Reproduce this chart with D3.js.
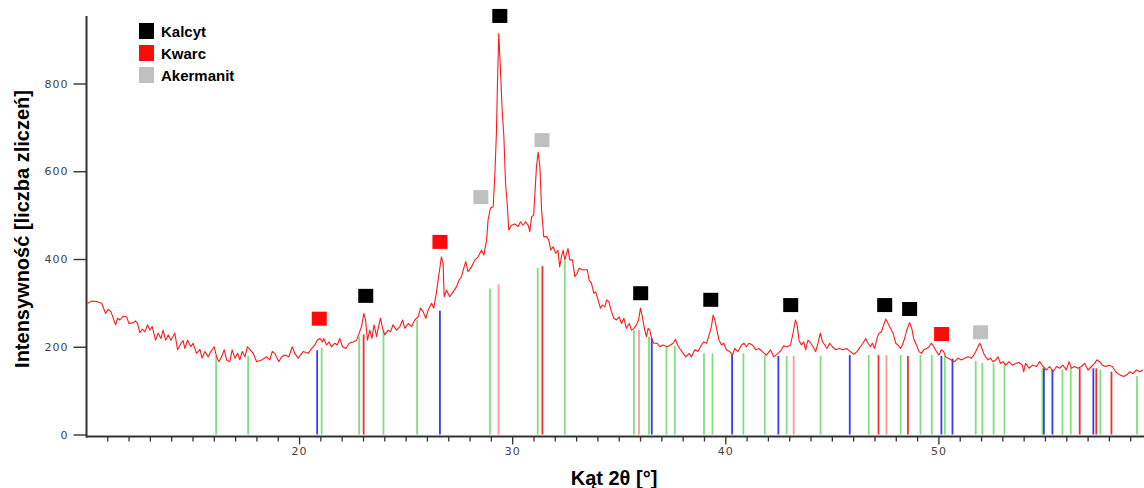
<!DOCTYPE html>
<html>
<head>
<meta charset="utf-8">
<script src="https://cdn.jsdelivr.net/npm/d3@7"></script>
<style>
  html, body { margin: 0; padding: 0; background: #fff; }
  svg { display: block; }
</style>
</head>
<body>
<svg id="chart" width="1144" height="488"></svg>
<script>
// Measured diffraction pattern: [2θ (°), counts]
const pattern = [
  [10.08,299],[10.27,304],[10.50,303],[10.74,299],[10.92,276],[11.04,285],[11.17,280],[11.23,272],
  [11.39,250],[11.49,265],[11.59,261],[11.75,270],[11.91,268],[12.02,253],[12.22,255],[12.33,259],
  [12.42,253],[12.53,232],[12.64,240],[12.77,234],[12.89,250],[13.00,238],[13.11,246],[13.27,215],
  [13.39,231],[13.52,219],[13.62,238],[13.74,215],[13.86,227],[13.99,215],[14.17,231],[14.30,193],
  [14.46,208],[14.56,214],[14.64,196],[14.77,215],[14.92,200],[15.03,208],[15.19,185],[15.35,194],
  [15.45,174],[15.58,189],[15.74,177],[15.86,189],[16.02,200],[16.13,177],[16.24,166],[16.36,177],
  [16.49,193],[16.60,170],[16.75,166],[16.86,193],[16.99,174],[17.12,185],[17.22,170],[17.33,189],
  [17.46,177],[17.58,200],[17.71,193],[17.85,185],[18.01,166],[18.24,170],[18.48,177],[18.63,170],
  [18.74,189],[18.86,185],[19.05,166],[19.18,177],[19.33,181],[19.52,177],[19.68,200],[19.80,185],
  [19.96,174],[20.19,189],[20.43,185],[20.59,196],[20.74,204],[20.85,215],[20.98,219],[21.10,211],
  [21.16,219],[21.29,204],[21.41,211],[21.52,200],[21.68,208],[21.79,204],[21.91,219],[22.04,200],
  [22.20,196],[22.35,208],[22.54,211],[22.70,215],[22.82,231],[22.93,246],[23.04,276],[23.12,261],
  [23.21,215],[23.32,238],[23.42,219],[23.52,250],[23.64,223],[23.73,246],[23.82,265],[23.92,242],
  [24.02,227],[24.18,238],[24.29,234],[24.41,250],[24.57,238],[24.73,246],[24.86,261],[24.96,242],
  [25.12,253],[25.28,246],[25.43,261],[25.59,268],[25.70,288],[25.82,280],[25.95,265],[26.06,284],
  [26.22,299],[26.32,288],[26.45,325],[26.57,367],[26.68,405],[26.76,390],[26.81,314],[26.92,329],
  [27.07,314],[27.23,325],[27.39,337],[27.51,352],[27.62,360],[27.73,379],[27.82,394],[27.93,371],
  [28.09,382],[28.25,398],[28.40,405],[28.56,420],[28.67,409],[28.80,443],[28.87,489],[28.98,516],
  [29.11,519],[29.19,595],[29.26,686],[29.31,800],[29.37,914],[29.45,831],[29.53,740],[29.61,679],
  [29.69,572],[29.76,531],[29.84,466],[29.97,477],[30.12,480],[30.28,474],[30.39,485],[30.51,477],
  [30.63,485],[30.75,477],[30.83,462],[30.91,496],[31.01,500],[31.14,610],[31.22,644],[31.30,610],
  [31.38,512],[31.48,451],[31.61,451],[31.72,443],[31.81,420],[31.92,428],[32.05,413],[32.15,420],
  [32.23,382],[32.31,405],[32.39,420],[32.47,398],[32.55,413],[32.62,424],[32.70,398],[32.83,398],
  [32.94,360],[33.05,367],[33.14,379],[33.33,375],[33.52,376],[33.61,352],[33.72,345],[33.83,322],
  [33.92,325],[34.03,307],[34.14,288],[34.24,295],[34.35,291],[34.43,307],[34.53,303],[34.66,280],
  [34.77,265],[34.89,261],[35.02,268],[35.13,253],[35.24,265],[35.36,242],[35.49,253],[35.60,238],
  [35.71,242],[35.83,250],[35.93,261],[36.02,288],[36.11,268],[36.22,238],[36.30,223],[36.38,242],
  [36.46,238],[36.54,219],[36.64,208],[36.80,208],[36.93,200],[37.08,204],[37.27,200],[37.43,204],
  [37.55,208],[37.66,217],[37.76,204],[37.86,196],[38.02,185],[38.15,177],[38.30,185],[38.41,177],
  [38.57,193],[38.72,189],[38.88,204],[38.99,211],[39.12,208],[39.22,223],[39.35,246],[39.43,272],
  [39.51,261],[39.59,242],[39.71,215],[39.82,204],[39.93,208],[40.05,193],[40.21,189],[40.34,181],
  [40.44,196],[40.60,189],[40.76,204],[40.88,208],[40.99,200],[41.11,208],[41.27,204],[41.43,193],
  [41.58,196],[41.74,189],[41.93,181],[42.12,193],[42.27,177],[42.48,185],[42.63,193],[42.74,202],
  [42.90,200],[43.06,204],[43.18,231],[43.29,261],[43.37,250],[43.46,215],[43.57,204],[43.68,211],
  [43.77,193],[43.88,215],[44.01,208],[44.12,200],[44.24,189],[44.35,208],[44.46,231],[44.56,211],
  [44.67,204],[44.77,196],[44.90,208],[45.03,200],[45.18,193],[45.34,196],[45.52,193],[45.68,196],
  [45.87,189],[46.03,183],[46.18,189],[46.34,200],[46.46,208],[46.59,219],[46.70,208],[46.81,200],
  [46.90,208],[47.01,196],[47.12,219],[47.21,231],[47.33,234],[47.43,250],[47.53,263],[47.64,253],
  [47.75,242],[47.87,231],[48.00,208],[48.10,204],[48.22,196],[48.31,204],[48.42,220],[48.53,240],
  [48.65,255],[48.75,242],[48.84,219],[48.97,204],[49.09,189],[49.20,185],[49.31,193],[49.44,196],
  [49.56,200],[49.67,208],[49.78,200],[49.91,189],[50.03,181],[50.14,193],[50.25,189],[50.34,177],
  [50.45,174],[50.61,170],[50.76,166],[50.92,174],[51.08,170],[51.23,174],[51.39,177],[51.55,174],
  [51.66,181],[51.75,189],[51.86,200],[51.94,208],[52.02,200],[52.12,185],[52.22,177],[52.33,170],
  [52.44,174],[52.56,166],[52.69,170],[52.80,177],[52.91,162],[53.03,166],[53.16,158],[53.31,166],
  [53.47,158],[53.63,162],[53.78,164],[53.94,158],[54.00,143],[54.09,162],[54.25,151],[54.41,158],
  [54.60,155],[54.75,166],[54.91,155],[55.07,147],[55.22,155],[55.38,143],[55.54,155],[55.69,151],
  [55.84,158],[56.00,147],[56.13,166],[56.24,151],[56.39,155],[56.55,151],[56.71,155],[56.86,162],
  [57.02,147],[57.18,155],[57.33,162],[57.44,170],[57.57,166],[57.69,158],[57.85,155],[58.00,158],
  [58.16,155],[58.32,143],[58.50,136],[58.69,132],[58.85,136],[58.97,143],[59.13,139],[59.29,147],
  [59.44,143],[59.60,147]
];

// Reference line positions: [2θ (°), relative height in counts, card]
const referenceLines = [
  [16.11,179,'g'],[17.61,179,'g'],[20.85,192,'b'],[21.06,198,'g'],[22.82,223,'g'],[23.03,228,'r'],
  [23.96,238,'g'],[25.54,261,'g'],[26.61,282,'b'],[28.96,333,'g'],[29.36,342,'p'],[31.20,380,'g'],
  [31.42,384,'r'],[32.47,396,'g'],[35.71,238,'g'],[35.95,238,'p'],[36.42,223,'g'],[36.55,220,'b'],
  [37.24,202,'g'],[37.63,202,'g'],[39.00,185,'g'],[39.40,185,'g'],[40.32,181,'b'],[40.85,185,'g'],
  [41.85,181,'g'],[42.49,179,'b'],[42.88,179,'g'],[43.21,179,'p'],[44.47,179,'g'],[45.84,181,'b'],
  [46.73,181,'g'],[47.19,181,'r'],[47.56,181,'p'],[48.23,181,'g'],[48.57,179,'r'],[49.16,181,'g'],
  [49.69,181,'g'],[50.14,179,'b'],[50.30,179,'g'],[50.66,173,'b'],[51.75,168,'g'],[52.06,163,'g'],
  [52.59,162,'g'],[53.10,160,'g'],[54.88,151,'g'],[54.95,151,'b'],[55.35,148,'b'],[55.82,148,'g'],
  [56.21,151,'g'],[56.63,151,'r'],[57.27,151,'b'],[57.41,151,'r'],[57.60,148,'g'],[58.12,143,'r'],
  [59.32,133,'g']
];

// Phase markers: [2θ (°), counts at marker centre, phase]
const phaseMarkers = [
  [20.95,264,'Kwarc'],[23.13,316,'Kalcyt'],[26.61,439,'Kwarc'],[28.53,541,'Akermanit'],
  [29.42,954,'Kalcyt'],[31.40,671,'Akermanit'],[36.03,322,'Kalcyt'],[39.32,307,'Kalcyt'],
  [43.07,295,'Kalcyt'],[47.48,295,'Kalcyt'],[48.65,286,'Kalcyt'],[50.15,229,'Kwarc'],
  [51.98,233,'Akermanit']
];

const phases = ['Kalcyt', 'Kwarc', 'Akermanit'];
const yTicks = [0, 200, 400, 600, 800];
const xMajorTicks = [20, 30, 40, 50];
const xMinorTicks = d3.range(11, 60);

const phaseColor = d3.scaleOrdinal().domain(phases).range(['#000000', '#ff0a0a', '#c0c0c0']);
const cardColor = { g: '#7ee07e', b: '#3a3aee', r: '#ee3030', p: '#ff9a9a' };

const svg = d3.select('#chart');
const x = d3.scaleLinear().domain([10.05, 59.6]).range([87, 1143]);
const y = d3.scaleLinear().domain([0, 800]).range([434.5, 83.5]);

// reference sticks
svg.append('g').selectAll('line').data(referenceLines).join('line')
  .attr('x1', d => x(d[0])).attr('x2', d => x(d[0]))
  .attr('y1', y(0)).attr('y2', d => y(d[1]))
  .attr('stroke', d => cardColor[d[2]])
  .attr('stroke-width', 1.8);

// measured pattern
svg.append('path').datum(pattern)
  .attr('fill', 'none')
  .attr('stroke', '#ff1a1a')
  .attr('stroke-width', 1.1)
  .attr('stroke-linejoin', 'round')
  .attr('d', d3.line().x(d => x(d[0])).y(d => y(d[1])));

// axes
const axisColor = '#333';
const yAxis = svg.append('g').attr('transform', 'translate(86.5,0)')
  .call(d3.axisLeft(y).tickValues(yTicks).tickSize(13).tickPadding(5).tickFormat(d3.format('d')));
yAxis.select('.domain').remove();
yAxis.selectAll('line').attr('stroke', axisColor).attr('stroke-width', 1.4);
yAxis.selectAll('text').attr('font-family', 'DejaVu Sans, sans-serif').attr('font-size', 11)
  .attr('fill', '#444').attr('letter-spacing', 1);

const xMinor = svg.append('g').attr('transform', 'translate(0,436.5)')
  .call(d3.axisBottom(x).tickValues(xMinorTicks.filter(v => !xMajorTicks.includes(v))).tickSize(5).tickFormat(''));
xMinor.select('.domain').remove();
xMinor.selectAll('line').attr('stroke', axisColor).attr('stroke-width', 1.3);

const xMajor = svg.append('g').attr('transform', 'translate(0,436.5)')
  .call(d3.axisBottom(x).tickValues(xMajorTicks).tickSize(8).tickPadding(3).tickFormat(d3.format('d')));
xMajor.select('.domain').remove();
xMajor.selectAll('line').attr('stroke', axisColor).attr('stroke-width', 1.3);
xMajor.selectAll('text').attr('font-family', 'DejaVu Sans, sans-serif').attr('font-size', 11)
  .attr('fill', '#444').attr('letter-spacing', 1);

svg.append('line').attr('x1', 86.5).attr('x2', 86.5).attr('y1', 16).attr('y2', 437.5)
  .attr('stroke', axisColor).attr('stroke-width', 2);
svg.append('line').attr('x1', 86).attr('x2', 1144).attr('y1', 436.5).attr('y2', 436.5)
  .attr('stroke', axisColor).attr('stroke-width', 2);

// phase markers
svg.append('g').selectAll('rect').data(phaseMarkers).join('rect')
  .attr('x', d => x(d[0]) - 7.5).attr('y', d => y(d[1]) - 7)
  .attr('width', 15).attr('height', 14)
  .attr('fill', d => phaseColor(d[2]));

// legend
const legend = svg.append('g').attr('transform', 'translate(139,23)');
const item = legend.selectAll('g').data(phases).join('g')
  .attr('transform', (d, i) => `translate(0,${i * 22})`);
item.append('rect').attr('width', 15).attr('height', 16).attr('fill', d => phaseColor(d));
item.append('text').attr('x', 22).attr('y', 14)
  .attr('font-family', 'Liberation Sans, Arial, sans-serif').attr('font-weight', 'bold')
  .attr('font-size', 15).attr('fill', '#000').text(d => d);

// axis titles
svg.append('text').attr('x', 614).attr('y', 485).attr('text-anchor', 'middle')
  .attr('font-family', 'Liberation Sans, Arial, sans-serif').attr('font-weight', 'bold')
  .attr('font-size', 20).text('Kąt 2θ [°]');
svg.append('text').attr('transform', 'translate(29,229) rotate(-90)').attr('text-anchor', 'middle')
  .attr('font-family', 'Liberation Sans, Arial, sans-serif').attr('font-weight', 'bold')
  .attr('font-size', 20).text('Intensywność [liczba zliczeń]');
</script>
</body>
</html>
